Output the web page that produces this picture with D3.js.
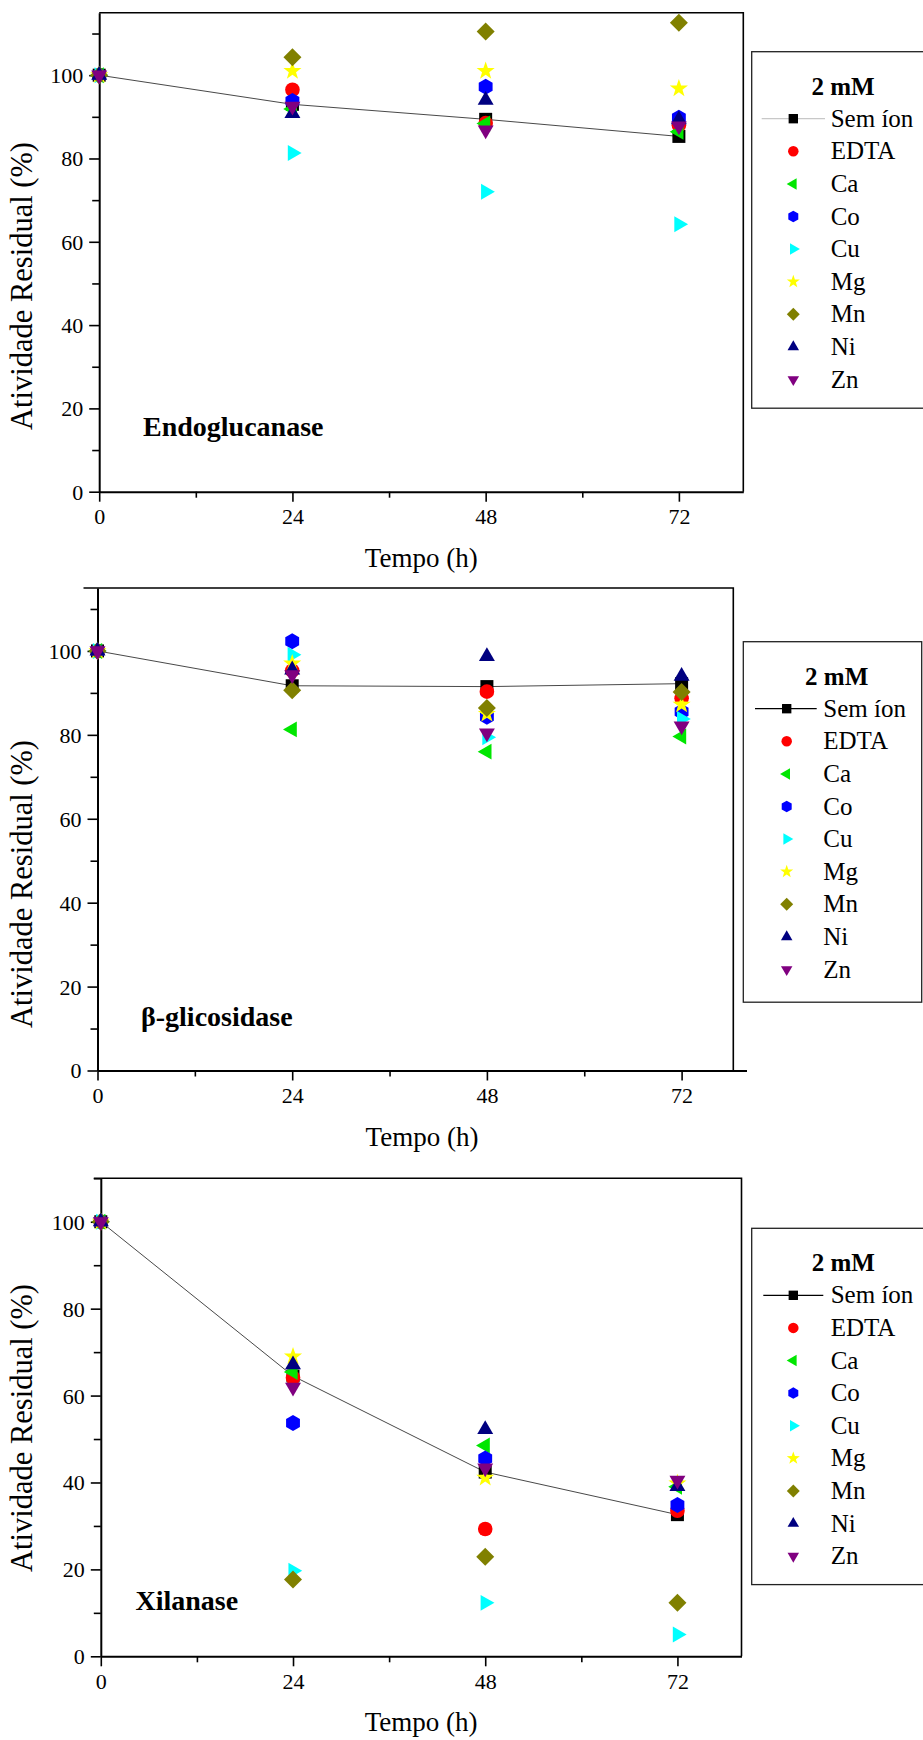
<!DOCTYPE html>
<html><head><meta charset="utf-8">
<script src="https://cdn.jsdelivr.net/npm/d3@7"></script>
<style>body{margin:0;background:#fff}svg{display:block}text{font-family:"Liberation Serif","Times New Roman",serif;fill:#000}</style>
</head><body><svg id="c" width="923" height="1740"></svg>
<script>
const times = [0, 24, 48, 72];
const ions = ["Sem íon", "EDTA", "Ca", "Co", "Cu", "Mg", "Mn", "Ni", "Zn"];
const xTicks = [0, 24, 48, 72];
const xMinorTicks = [12, 36, 60];
const yTicks = [0, 20, 40, 60, 80, 100];
const yMinorTicks = [10, 30, 50, 70, 90, 110];

// rows follow the order of `ions`
const endoValues = [
  [100, 93.0, 89.4, 85.3],
  [100, 96.5, 88.5, 88.0],
  [100, 91.9, 88.4, 86.4],
  [100, 93.8, 97.2, 89.8],
  [100, 81.3, 72.0, 64.2],
  [100, 101.0, 101.0, 96.8],
  [100, 104.3, 110.5, 112.6],
  [100, 90.8, 94.0, 89.3],
  [100, 92.5, 86.8, 87.8]
];
const betaValues = [
  [100, 91.7, 91.5, 92.2],
  [100, 95.3, 90.3, 88.7],
  [100, 81.3, 76.0, 79.6],
  [100, 102.3, 84.3, 85.5],
  [100, 99.1, 79.4, 83.8],
  [100, 97.0, 85.0, 87.2],
  [100, 90.6, 86.4, 90.2],
  [100, 95.5, 98.7, 94.0],
  [100, 94.3, 80.4, 82.1]
];
const xilValues = [
  [100, 64.5, 42.4, 32.6],
  [100, 64.1, 29.3, 33.5],
  [100, 65.4, 48.5, 39.0],
  [100, 53.7, 45.5, 34.8],
  [100, 19.7, 12.3, 5.0],
  [100, 69.0, 41.1, 39.8],
  [100, 17.7, 22.9, 12.3],
  [100, 67.1, 52.2, 39.1],
  [100, 61.9, 43.3, 40.5]
];
const enzymeNames = ["Endoglucanase", "β-glicosidase", "Xilanase"];
const legendTitle = "2 mM";
const xTitle = "Tempo (h)";
const yTitles = ["Atividade Residual (%)", "Atividade Residual  (%)", "Atividade Residual  (%)"];

const colors = ["#000000", "#ff0000", "#00e600", "#0000ff", "#00ffff", "#ffff00", "#808000", "#000080", "#800080"];
const shapes = ["square", "circle", "triLeft", "hexagon", "triRight", "star", "diamond", "triUp", "triDown"];

function poly(pts) { return "M" + pts.map(p => p[0].toFixed(2) + "," + p[1].toFixed(2)).join("L") + "Z"; }
function shapePath(type, k) {
  const pts = [];
  switch (type) {
    case "square": { const s = 6.5 * k; return poly([[-s,-s],[s,-s],[s,s],[-s,s]]); }
    case "circle": { const r = 7.3 * k; return `M${r},0A${r},${r} 0 1,1 ${-r},0A${r},${r} 0 1,1 ${r},0Z`; }
    case "diamond": { const r = 9 * k; return poly([[0,-r],[r,0],[0,r],[-r,0]]); }
    case "hexagon": { const r = 8 * k; for (let i = 0; i < 6; i++) { const a = -Math.PI/2 + i*Math.PI/3; pts.push([r*Math.cos(a), r*Math.sin(a)]); } return poly(pts); }
    case "star": { const R = 9.5 * k, r = R * 0.4; for (let i = 0; i < 10; i++) { const a = -Math.PI/2 + i*Math.PI/5; const rr = i % 2 ? r : R; pts.push([rr*Math.cos(a), rr*Math.sin(a)]); } return poly(pts); }
    default: {
      const R = 9.2 * k;
      const base = {triUp: -Math.PI/2, triDown: Math.PI/2, triLeft: Math.PI, triRight: 0}[type];
      for (let i = 0; i < 3; i++) { const a = base + i*2*Math.PI/3; pts.push([R*Math.cos(a), R*Math.sin(a)]); }
      return poly(pts);
    }
  }
}

const panels = [
  { values: endoValues, yMax: 115, xL: 99.2, xR: 743.3, frameR: 743.3, top: 12.7, bottom: 491.7, topExt: 0,
    label: {x: 143, y: 436}, yTitleY: 286,
    legend: {x: 751.7, y: 51.7, w: 200, h: 356.5, lineColor: "#c8c8c8", cx: 793.3, tx: 830.7, l1: 761.7, l2: 825, titleX: 843} },
  { values: betaValues, yMax: 115, xL: 97.5, xR: 746.5, frameR: 733.3, top: 588, bottom: 1070.5, topExt: 14,
    label: {x: 141, y: 1026}, yTitleY: 884,
    legend: {x: 743.3, y: 641.7, w: 178.4, h: 360.5, lineColor: "#000", cx: 786.7, tx: 823.3, l1: 755, l2: 816.7, titleX: 836.7} },
  { values: xilValues, yMax: 110, xL: 100.8, xR: 741.5, frameR: 741.5, top: 1178.3, bottom: 1656.3, topExt: 7,
    label: {x: 135.5, y: 1610}, yTitleY: 1428,
    legend: {x: 751.7, y: 1228.3, w: 200, h: 356.3, lineColor: "#000", cx: 793.3, tx: 830.7, l1: 763.3, l2: 823.3, titleX: 843.3} }
];

const svg = d3.select("#c");

panels.forEach((p, pi) => {
  const g = svg.append("g");
  const x = d3.scaleLinear().domain([0, 80]).range([p.xL, p.xR]);
  const y = d3.scaleLinear().domain([0, p.yMax]).range([p.bottom, p.top]);

  g.append("path")
    .attr("d", `M${p.xL - p.topExt},${p.top}H${p.frameR}V${p.bottom}`)
    .attr("fill", "none").attr("stroke", "#000").attr("stroke-width", 1.6);

  const xa = g.append("g").attr("transform", `translate(0,${p.bottom})`)
    .call(d3.axisBottom(x).tickValues(xTicks).tickSize(10).tickSizeOuter(0).tickFormat(d3.format("d")));
  g.append("g").attr("transform", `translate(0,${p.bottom})`)
    .call(d3.axisBottom(x).tickValues(xMinorTicks).tickSize(6).tickSizeOuter(0).tickFormat(""))
    .call(a => a.select(".domain").remove());
  const ya = g.append("g").attr("transform", `translate(${p.xL},0)`)
    .call(d3.axisLeft(y).tickValues(yTicks).tickSize(10).tickSizeOuter(0).tickFormat(d3.format("d")));
  g.append("g").attr("transform", `translate(${p.xL},0)`)
    .call(d3.axisLeft(y).tickValues(yMinorTicks.filter(v => v <= p.yMax)).tickSize(7).tickSizeOuter(0).tickFormat(""))
    .call(a => a.select(".domain").remove());

  g.selectAll(".domain").attr("stroke", "#000").attr("stroke-width", 2);
  g.selectAll(".tick line").attr("stroke", "#000").attr("stroke-width", 1.6);
  xa.selectAll(".tick text").attr("font-size", 22).attr("y", 32.6).attr("dy", 0);
  ya.selectAll(".tick text").attr("font-size", 22).attr("x", -16).attr("dy", "0.34em");

  g.append("text").attr("x", (p.xL + p.xR) / 2).attr("y", p.bottom + 75)
    .attr("text-anchor", "middle").attr("font-size", 27).text(xTitle);
  g.append("text").attr("transform", `translate(22,${p.yTitleY}) rotate(-90)`)
    .attr("text-anchor", "middle").attr("dominant-baseline", "central")
    .attr("font-size", 30.5).text(yTitles[pi]);

  g.append("text").attr("x", p.label.x).attr("y", p.label.y)
    .attr("font-size", 28).attr("font-weight", "bold").text(enzymeNames[pi]);

  const line = d3.line().x((d, i) => x(times[i])).y(d => y(d));
  g.append("path").datum(p.values[0]).attr("d", line)
    .attr("fill", "none").attr("stroke", "#333").attr("stroke-width", 0.9);

  p.values.forEach((row, si) => {
    g.append("g").selectAll("path").data(row).join("path")
      .attr("transform", (d, i) => `translate(${x(times[i])},${y(d)})`)
      .attr("d", shapePath(shapes[si], 1))
      .attr("fill", colors[si]);
  });

  const L = p.legend;
  const lg = svg.append("g");
  lg.append("rect").attr("x", L.x).attr("y", L.y).attr("width", L.w).attr("height", L.h)
    .attr("fill", "#fff").attr("stroke", "#222").attr("stroke-width", 1.3);
  lg.append("text").attr("x", L.titleX).attr("y", L.y + 42.8).attr("text-anchor", "middle")
    .attr("font-size", 25).attr("font-weight", "bold").text(legendTitle);
  ions.forEach((name, si) => {
    const yy = L.y + 75 + si * 32.6;
    const cy = yy - 8;
    if (si === 0) {
      lg.append("line").attr("x1", L.l1).attr("x2", L.l2).attr("y1", cy).attr("y2", cy)
        .attr("stroke", L.lineColor).attr("stroke-width", 1.2);
    }
    lg.append("path").attr("transform", `translate(${L.cx},${cy})`)
      .attr("d", shapePath(shapes[si], 0.72)).attr("fill", colors[si]);
    lg.append("text").attr("x", L.tx).attr("y", yy).attr("font-size", 25).text(name);
  });
});
</script></body></html>
